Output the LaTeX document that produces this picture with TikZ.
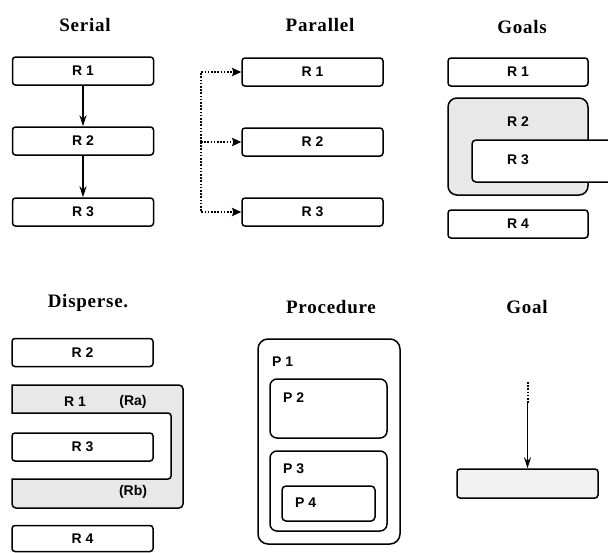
\documentclass[tikz,border=0pt]{standalone}
\usepackage{fontspec}
\setmainfont{Liberation Serif}
\newfontfamily\titlefont[LetterSpace=4]{Liberation Serif}
\newfontfamily\lblfont{Liberation Sans}
\usetikzlibrary{arrows.meta}

\begin{document}
\begin{tikzpicture}[x=1pt,y=-1pt,
  title/.style={font=\titlefont\bfseries\fontsize{19}{21}\selectfont},
  lbl/.style={font=\lblfont\bfseries\fontsize{14}{16}\selectfont, inner sep=0pt},
  rbox/.style={draw, line width=1.5pt, rounded corners=3pt, fill=white,
    minimum width=141pt, minimum height=28pt, inner sep=0pt,
    font=\lblfont\bfseries\fontsize{14}{16}\selectfont},
  frame/.style={draw, line width=1.5pt},
  shade/.style={fill=black!9},
  lightshade/.style={fill=black!5},
  flow/.style={line width=1.5pt, -{Stealth[length=11pt,width=7pt]}},
  dotline/.style={line width=2pt, dash pattern=on 1.6pt off 1.6pt},
  dotflow/.style={dotline, -{Stealth[length=9pt,width=8pt,inset=1pt]}}
]
\useasboundingbox (0,0) rectangle (608,552);

% ---------- Serial ----------
\node[title] (tserial) at (85,25) {Serial};
\node[rbox] (s1) at (83,71)  {R 1};
\node[rbox] (s2) at (83,141) {R 2};
\node[rbox] (s3) at (83,212) {R 3};
\draw[flow] (s1) -- (s2);
\draw[flow] (s2) -- (s3);

% ---------- Parallel ----------
\node[title] (tpar) at (320,25) {Parallel};
\node[rbox] (p1) at (312.5,72)  {R 1};
\node[rbox] (p2) at (312.5,142) {R 2};
\node[rbox] (p3) at (312.5,212) {R 3};
\coordinate (fork) at (201,142);
\draw[dotflow] (fork) |- (p1.west);
\draw[dotflow] (fork) -- (p2.west);
\draw[dotflow] (fork) |- (p3.west);

% ---------- Goals ----------
\node[title] (tgoals) at (522,27) {Goals};
\node[rbox, minimum width=140pt] (g1) at (518,72) {R 1};
\draw[frame, shade, rounded corners=9pt] (448,98) rectangle (588,195);
\node[lbl] (g2) at (518,122) {R 2};
\begin{scope}
  \clip (0,0) rectangle (608,552);
  \draw[frame, fill=white, rounded corners=4pt] (472,140) rectangle (625,182);
\end{scope}
\node[lbl] (g3) at (518,160) {R 3};
\node[rbox, minimum width=140pt] (g4) at (518,224) {R 4};

% ---------- Disperse ----------
\node[title] (tdisp) at (88,303) {Disperse.};
\node[rbox] (d2) at (82.5,352.5) {R 2};
\draw[frame, shade]
  (12,413) -- (12,385) [rounded corners=4pt] -- (183,385) -- (183,508)
  -- (12,508) [sharp corners] -- (12,479) [rounded corners=3pt] -- (171,479)
  -- (171,413) [sharp corners] -- cycle;
\node[lbl] (d1) at (75,402) {R 1};
\node[lbl] (da) at (133,402) {(Ra)};
\node[lbl] (db) at (133,492) {(Rb)};
\node[rbox] (d3) at (82.5,447) {R 3};
\node[rbox, minimum height=26pt] (d4) at (82.5,538.5) {R 4};

% ---------- Procedure ----------
\node[title] (tproc) at (331,307) {Procedure};
\draw[frame, rounded corners=10pt] (258,339) rectangle (400,544);
\node[lbl, anchor=west] (pp1) at (272,362) {P 1};
\draw[frame, rounded corners=7pt] (270,379) rectangle (387,438);
\node[lbl, anchor=west] (pp2) at (283,398) {P 2};
\draw[frame, rounded corners=7pt] (270,451) rectangle (387,531);
\node[lbl, anchor=west] (pp3) at (283,469) {P 3};
\draw[frame, rounded corners=4pt] (282,486) rectangle (375,521);
\node[lbl, anchor=west] (pp4) at (295,503) {P 4};

% ---------- Goal ----------
\node[title] (tgoal) at (527,307) {Goal};
\node[rbox, lightshade, minimum height=29pt] (gb) at (527.5,483.5) {};
\coordinate (gsrc) at (527.5,382);
\coordinate (gmid) at (527.5,403);
\draw[dotline] (gsrc) -- (gmid);
\draw[flow] (gmid) -- (gb.north);
\end{tikzpicture}
\end{document}
